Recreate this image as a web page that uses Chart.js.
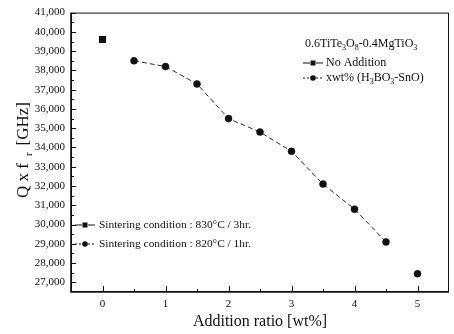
<!DOCTYPE html>
<html>
<head>
<meta charset="utf-8">
<script src="https://cdn.jsdelivr.net/npm/chart.js@4.4.1/dist/chart.umd.min.js"></script>
<style>
html,body{margin:0;padding:0;background:#fff;}
#wrap{width:454px;height:334px;position:relative;}
</style>
</head>
<body>
<div id="wrap"><canvas id="c" width="454" height="334"></canvas></div>
<script>
// ---- data ----
const additionRatio = [0.5, 1, 1.5, 2, 2.5, 3, 3.5, 4, 4.5, 5];
const qfAddition = [38500, 38200, 37300, 35500, 34800, 33800, 32100, 30800, 29100, 27450];
const noAdditionRatio = [0];
const qfNoAddition = [39600];
const yTickValues = [27000, 28000, 29000, 30000, 31000, 32000, 33000, 34000, 35000, 36000, 37000, 38000, 39000, 40000, 41000];
const xTickValues = [0, 1, 2, 3, 4, 5];

const SERIF = '"Liberation Serif", "Times New Roman", serif';
const INK = '#111';

function drawSubText(ctx, parts, x, y, size) {
  let cx = x;
  parts.forEach(([t, sub]) => {
    ctx.font = (sub ? Math.round(size * 0.65) : size) + 'px ' + SERIF;
    ctx.fillText(t, cx, sub ? y + size * 0.3 : y);
    cx += ctx.measureText(t).width;
  });
  return cx;
}

function legendSymbol(ctx, x, y, kind, dashed) {
  ctx.save();
  ctx.strokeStyle = INK;
  ctx.lineWidth = 1;
  if (dashed) ctx.setLineDash([2, 2]);
  ctx.beginPath(); ctx.moveTo(x, y); ctx.lineTo(x + 7, y); ctx.stroke();
  ctx.beginPath(); ctx.moveTo(x + 13, y); ctx.lineTo(x + 20, y); ctx.stroke();
  ctx.setLineDash([]);
  ctx.fillStyle = INK;
  if (kind === 'rect') ctx.fillRect(x + 7.5, y - 2.5, 5, 5);
  else { ctx.beginPath(); ctx.arc(x + 10, y, 2.8, 0, Math.PI * 2); ctx.fill(); }
  ctx.restore();
}

const decor = {
  id: 'decor',
  afterDraw(chart) {
    const ctx = chart.ctx;
    const a = chart.chartArea;
    const xs = chart.scales.x, ys = chart.scales.y;
    ctx.save();
    ctx.strokeStyle = INK;
    ctx.lineWidth = 1;
    ctx.strokeRect(a.left + 0.5, a.top + 0.5, a.right - a.left - 1, a.bottom - a.top - 1);
    ctx.lineWidth = 1.6;
    ctx.beginPath();
    ctx.moveTo(a.left, a.top); ctx.lineTo(a.left, a.bottom); ctx.lineTo(a.right, a.bottom);
    ctx.stroke();
    ctx.lineWidth = 1;
    ys.ticks.forEach(t => {
      const p = Math.round(ys.getPixelForValue(t.value)) + 0.5;
      ctx.beginPath(); ctx.moveTo(a.left, p); ctx.lineTo(a.left + 5, p); ctx.stroke();
      const pm = Math.round(ys.getPixelForValue(t.value - 500)) + 0.5;
      if (pm < a.bottom) { ctx.beginPath(); ctx.moveTo(a.left, pm); ctx.lineTo(a.left + 3, pm); ctx.stroke(); }
    });
    xs.ticks.forEach(t => {
      const p = Math.round(xs.getPixelForValue(t.value)) + 0.5;
      ctx.beginPath(); ctx.moveTo(p, a.bottom); ctx.lineTo(p, a.bottom - 6); ctx.stroke();
      const pm = Math.round(xs.getPixelForValue(t.value + 0.5)) + 0.5;
      if (pm < a.right) { ctx.beginPath(); ctx.moveTo(pm, a.bottom); ctx.lineTo(pm, a.bottom - 3); ctx.stroke(); }
    });
    ctx.fillStyle = INK;
    ctx.textBaseline = 'middle';
    ctx.textAlign = 'center';
    ctx.font = '16px ' + SERIF;
    ctx.fillText('Addition ratio [wt%]', (a.left + a.right) / 2, 322);
    ctx.save();
    ctx.translate(24, 150);
    ctx.rotate(-Math.PI / 2);
    ctx.textAlign = 'left';
    const parts = [['Q x f ', false], [' r ', true], [' [GHz]', false]];
    let w = 0;
    parts.forEach(([t, s]) => { ctx.font = (s ? 11 : 17) + 'px ' + SERIF; w += ctx.measureText(t).width; });
    drawSubText(ctx, parts, -w / 2, 0, 17);
    ctx.restore();
    ctx.textAlign = 'left';
    drawSubText(ctx, [['0.6TiTe', false], ['3', true], ['O', false], ['8', true], ['-0.4MgTiO', false], ['3', true]], 305, 44, 12);
    legendSymbol(ctx, 303, 63, 'rect', false);
    drawSubText(ctx, [['No Addition', false]], 326, 63, 12);
    legendSymbol(ctx, 303, 78, 'circle', true);
    drawSubText(ctx, [['xwt% (H', false], ['3', true], ['BO', false], ['3', true], ['-SnO)', false]], 326, 78, 12);
    legendSymbol(ctx, 75, 225, 'rect', false);
    drawSubText(ctx, [['Sintering condition : 830\u00B0C / 3hr.', false]], 99, 225, 11.4);
    legendSymbol(ctx, 75, 244, 'circle', true);
    drawSubText(ctx, [['Sintering condition : 820\u00B0C / 1hr.', false]], 99, 244, 11.4);
    ctx.restore();
  }
};

new Chart(document.getElementById('c'), {
  type: 'line',
  data: {
    datasets: [
      {
        label: 'No Addition',
        data: noAdditionRatio.map((x, i) => ({ x, y: qfNoAddition[i] })),
        showLine: false,
        pointStyle: 'rect',
        pointRadius: 5,
        backgroundColor: INK,
        borderColor: INK,
        borderWidth: 0
      },
      {
        label: 'xwt% (H3BO3-SnO)',
        data: additionRatio.map((x, i) => ({ x, y: qfAddition[i] })),
        borderColor: '#333',
        borderWidth: 1,
        borderDash: [5, 3],
        pointStyle: 'circle',
        pointRadius: 3.5,
        pointBackgroundColor: INK,
        pointBorderColor: INK,
        pointBorderWidth: 0.5,
        tension: 0,
        segment: {
          borderColor: c => (c.p1DataIndex === additionRatio.length - 1 ? 'rgba(0,0,0,0)' : '#333')
        }
      }
    ]
  },
  options: {
    responsive: false,
    animation: false,
    layout: { padding: { top: 10, right: 1, left: 0, bottom: 0 } },
    plugins: { legend: { display: false }, tooltip: { enabled: false } },
    scales: {
      x: {
        type: 'linear',
        min: -0.5,
        max: 5.5,
        afterBuildTicks: s => { s.ticks = xTickValues.map(v => ({ value: v })); },
        afterFit: s => { s.height = 42; },
        grid: { display: false, drawTicks: false },
        border: { display: false },
        ticks: { color: INK, font: { family: SERIF, size: 11 }, padding: 6, maxRotation: 0 }
      },
      y: {
        type: 'linear',
        min: 26500,
        max: 41000,
        afterBuildTicks: s => { s.ticks = yTickValues.map(v => ({ value: v })); },
        afterFit: s => { s.width = 71; },
        grid: { display: false, drawTicks: false },
        border: { display: false },
        ticks: {
          color: INK,
          font: { family: SERIF, size: 11 },
          padding: 6,
          callback: v => v.toLocaleString('en-US')
        }
      }
    }
  },
  plugins: [decor]
});
</script>
</body>
</html>
